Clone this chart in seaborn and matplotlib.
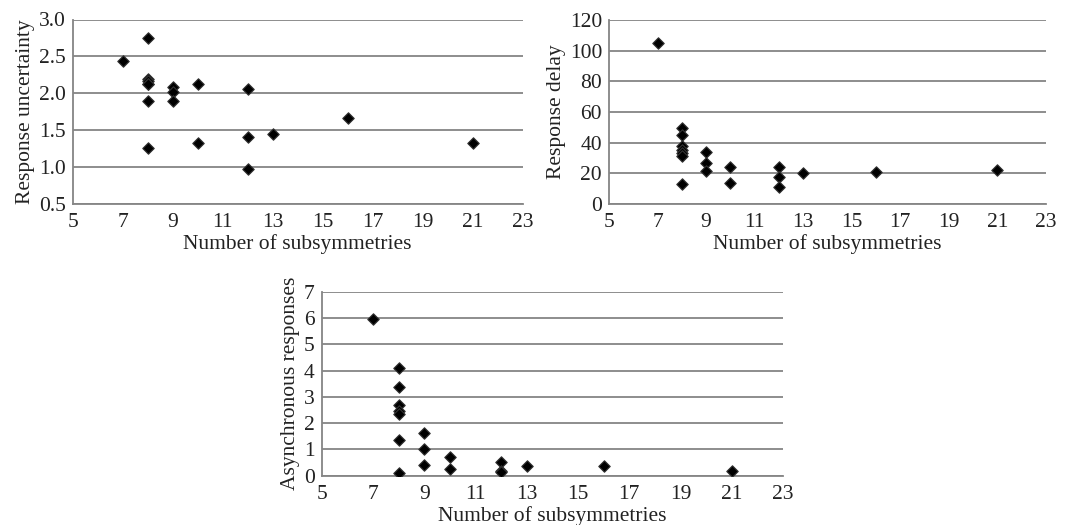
import numpy as np
import pandas as pd
import matplotlib
matplotlib.use("Agg")
import matplotlib.pyplot as plt
import seaborn as sns

# Data
subsym = [7, 8, 8, 8, 8, 8, 8, 8, 9, 9, 9, 10, 10, 12, 12, 12, 13, 16, 21]
uncertainty = [2.44, 2.75, 2.20, 2.16, 2.12, 2.12, 1.89, 1.26, 2.09, 2.02, 1.89,
               2.12, 1.33, 2.06, 1.41, 0.98, 1.45, 1.67, 1.33]
delay = [105, 49.5, 45, 38, 35, 33, 31, 13, 33.6, 26.6, 21.2,
         24, 14, 24, 17.9, 10.9, 20.1, 21, 22.3]
async_resp = [5.97, 4.08, 3.36, 2.70, 2.48, 2.33, 1.36, 0.12, 1.62, 1.0, 0.41,
              0.73, 0.24, 0.53, 0.18, 0.14, 0.36, 0.36, 0.18]

xticks = [5, 7, 9, 11, 13, 15, 17, 19, 21, 23]
yticks1 = [0.5, 1.0, 1.5, 2.0, 2.5, 3.0]
yticks2 = [0, 20, 40, 60, 80, 100, 120]
yticks3 = [0, 1, 2, 3, 4, 5, 6, 7]

df = pd.DataFrame({"x": subsym, "unc": uncertainty, "delay": delay, "async": async_resp})

sns.set_theme(style="white")
plt.rcParams['font.family'] = ['Liberation Serif', 'DejaVu Serif']

fig = plt.figure(figsize=(10.77, 5.25), dpi=100)
W, H = 1077, 525

def axes_px(l, t, r, b):
    return fig.add_axes([l / W, 1 - b / H, (r - l) / W, (b - t) / H])

ax1 = axes_px(72.7, 19.5, 522.7, 204)
ax2 = axes_px(609, 20, 1046, 204)
ax3 = axes_px(321.7, 291.7, 783, 475.7)

gray = "#858585"
specs = [
    (ax1, "unc", "Response uncertainty", yticks1, "{:.1f}"),
    (ax2, "delay", "Response delay", yticks2, "{:.0f}"),
    (ax3, "async", "Asynchronous responses", yticks3, "{:.0f}"),
]

for ax, col, ylabel, yt, fmt in specs:
    sns.scatterplot(data=df, x="x", y=col, ax=ax, marker="D", s=34,
                    color="black", edgecolor="#333333", linewidth=0.8, zorder=3)
    ax.set_xlim(xticks[0], xticks[-1])
    ax.set_ylim(yt[0], yt[-1])
    ax.set_xticks(xticks)
    ax.set_yticks(yt)
    ax.set_yticklabels([fmt.format(v) for v in yt])
    ax.set_xticklabels([str(v) for v in xticks])
    ax.yaxis.grid(True, color=gray, linewidth=1.3)
    ax.xaxis.grid(False)
    ax.set_axisbelow(True)
    for s in ["top", "right"]:
        ax.spines[s].set_visible(False)
    for s in ["left", "bottom"]:
        ax.spines[s].set_color(gray)
        ax.spines[s].set_linewidth(1.3)
    ax.tick_params(axis="y", which="major", direction="out", length=4,
                   width=1.2, color=gray, labelsize=15.5, pad=1)
    ax.tick_params(axis="x", which="major", direction="out", length=4,
                   width=1.2, color=gray, labelsize=15.5, pad=2.5)
    ax.tick_params(axis="both", colors=gray, labelcolor="#222222")
    ax.set_xlabel("Number of subsymmetries", fontsize=15.5, color="#222222", labelpad=1.5)
    ax.set_ylabel(ylabel, fontsize=15.5, color="#222222", labelpad=3)

fig.savefig("out.png", dpi=100)
